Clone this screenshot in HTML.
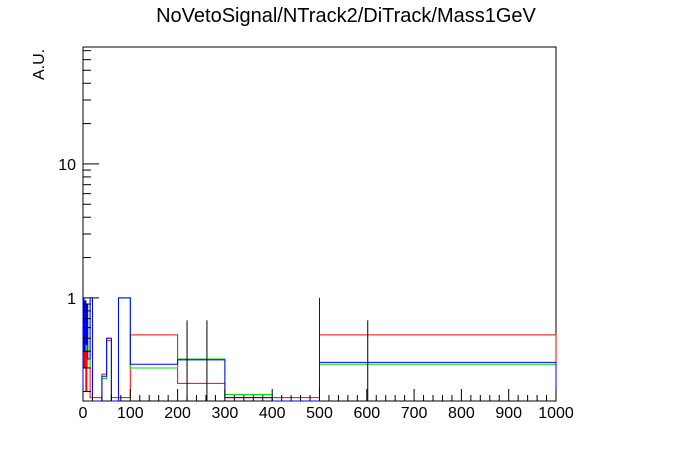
<!DOCTYPE html>
<html><head><meta charset="utf-8"><style>
body{margin:0;background:#fff;}
svg{display:block;font-family:"Liberation Sans",sans-serif;}
</style></head><body>
<svg id="c" width="696" height="472">
<text x="346" y="22" text-anchor="middle" font-size="20">NoVetoSignal/NTrack2/DiTrack/Mass1GeV</text>
<text transform="translate(44,80) rotate(-90)" font-size="16">A.U.</text>
<rect x="83" y="47" width="473" height="354" fill="none" stroke="#000"/>
</svg>
<script>
const xTicks=[0,100,200,300,400,500,600,700,800,900,1000];
const yTickLabels=[1,10];
const redEdges=[0,2,4,6,8,10,15,20,40,50,60,75,100,200,300,500,1000];
const redVals=[0.45,0.3,0.9,0.2,0.6,0.35,0.18,0.18,0.27,0.48,0.18,0.18,0.53,0.23,0.18,0.53];
const greenEdges=[0,2,4,6,8,10,15,20,40,50,60,75,100,200,300,400,500,1000];
const greenVals=[0.9,0.5,0.95,0.4,0.7,0.3,0.95,0.17,0.25,0.5,0.17,1.0,0.3,0.35,0.19,0.15,0.32];
const blueEdges=[0,2,4,6,8,10,15,20,40,50,60,75,100,200,300,400,500,1000];
const blueVals=[1.0,0.4,0.95,0.45,0.9,0.35,1.0,0.17,0.26,0.5,0.17,1.0,0.32,0.345,0.18,0.15,0.33];
const blueSpikeX=[500];
const blueSpikeHi=[1.0];
const errX=[220,262,602];
const errHi=[0.68,0.68,0.68];
const NS="http://www.w3.org/2000/svg";
const svg=document.getElementById('c');
const X0=83,X1=556,Y0=401,Y1=47,LMIN=Math.log10(0.17),LMAX=Math.log10(74.6);
function sx(v){return X0+(v/1000)*(X1-X0);}
function sy(v){let l=Math.log10(Math.max(v,0.17));return Y0-(l-LMIN)/(LMAX-LMIN)*(Y0-Y1);}
function el(t,a){const e=document.createElementNS(NS,t);for(const k in a)e.setAttribute(k,a[k]);svg.appendChild(e);return e;}
function hist(edges,vals,col,name){
  let d=`M${sx(edges[0])},${Y0}`;
  for(let i=0;i<vals.length;i++){d+=` L${sx(edges[i])},${sy(vals[i])} L${sx(edges[i+1])},${sy(vals[i])}`;}
  d+=` L${sx(edges[edges.length-1])},${Y0}`;
  const p=el('path',{d:d,fill:'none',stroke:col,'stroke-width':1});
  
  
}
hist(redEdges,redVals,'#ff0000','series-red');
hist(greenEdges,greenVals,'#00dd00','series-green');
hist(blueEdges,blueVals,'#0000ff','series-blue');
blueSpikeX.forEach((x,i)=>{
  const l=el('line',{x1:sx(x),x2:sx(x),y1:sy(blueSpikeHi[i]),y2:Y0,stroke:'#0000ff'});
  
  
});
errX.forEach((x,i)=>{
  const l=el('line',{x1:sx(x),x2:sx(x),y1:sy(errHi[i]),y2:Y0,stroke:'#000'});
  
  
});
for(let v=0;v<=1000;v+=20){
  const major=v%100===0;
  const t=el('line',{x1:sx(v),x2:sx(v),y1:Y0,y2:Y0-(major?12:6),stroke:'#000'});
  
  
}
xTicks.forEach(v=>{
  const t=el('text',{x:sx(v),y:418,'text-anchor':'middle','font-size':16});
  t.textContent=v;
  
  
});
for(let dec=-1;dec<=1;dec++){
  for(let m=1;m<=9;m++){
    const v=m*Math.pow(10,dec);
    if(v<0.17||v>74.6)continue;
    const major=m===1;
    const t=el('line',{x1:X0,x2:X0+(major?16:8),y1:sy(v),y2:sy(v),stroke:'#000'});
    
    
  }
}
yTickLabels.forEach(v=>{
  const t=el('text',{x:76,y:sy(v)+6,'text-anchor':'end','font-size':16});
  t.textContent=v;
  
  
});
</script>
</body></html>
